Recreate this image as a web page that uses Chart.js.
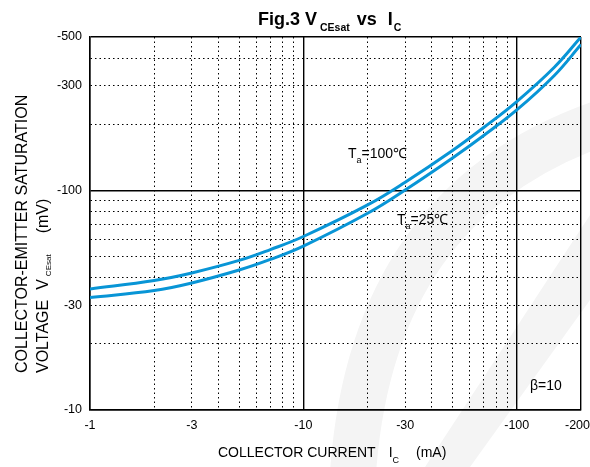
<!DOCTYPE html>
<html>
<head>
<meta charset="utf-8">
<script src="https://cdn.jsdelivr.net/npm/chart.js@4.4.1/dist/chart.umd.min.js"></script>
<style>
  body { margin: 0; background: #fff; }
  #wrap { width: 590px; height: 467px; }
</style>
</head>
<body>
<div id="wrap"><canvas id="chart"></canvas></div>
<script>
// magnitudes, the axes print them with a minus sign
const icValues = [1, 2, 3, 5, 7, 10, 20, 30, 50, 70, 100, 150, 200];               // mA
const vce100 = [35.6, 38.9, 42.1, 48.0, 53.8, 61.7, 85.9, 109, 152, 193.5, 254, 364, 500]; // mV, Ta=100C
const vce25 = [32.5, 35.0, 37.9, 43.4, 48.5, 55.8, 78.7, 100.5, 140.6, 178, 232.6, 334, 462]; // mV, Ta=25C

const xGrid = [1, 2, 3, 4, 5, 6, 7, 8, 9, 10, 20, 30, 40, 50, 60, 70, 80, 90, 100, 200];
const yGrid = [10, 20, 30, 40, 50, 60, 70, 80, 90, 100, 200, 300, 400, 500];
const xTickLabels = [1, 3, 10, 30, 100, 200];
const yTickLabels = [10, 30, 100, 300, 500];
const xMajor = [1, 10, 100, 200];
const yMajor = [10, 100, 500];

const FONT = '"Liberation Sans", Arial, sans-serif';
const BLUE = '#0895d6';

function isMinor(ctx, major) {
    return ctx.tick && !major.includes(ctx.tick.value);
}

// text with subscripts: each part can shift down (dy) and leave a gap before it
function drawRich(ctx, parts, x, y) {
    let cx = x;
    parts.forEach(p => {
        cx += p.gap || 0;
        ctx.font = p.font;
        ctx.fillText(p.text, cx, y + (p.dy || 0));
        cx += ctx.measureText(p.text).width;
    });
}

const f = (size, bold) => (bold ? 'bold ' : '') + size + 'px ' + FONT;

const decorPlugin = {
    id: 'decor',
    beforeDraw(chart) {
        // faint watermark behind the plot
        const ctx = chart.ctx;
        ctx.save();
        ctx.strokeStyle = '#f4f4f4';
        ctx.lineWidth = 46;
        ctx.beginPath();
        ctx.moveTo(352, 490);
        ctx.quadraticCurveTo(365, 200, 610, 120);
        ctx.stroke();
        ctx.fillStyle = '#f4f4f4';
        ctx.beginPath();
        ctx.moveTo(425, 467);
        ctx.lineTo(470, 467);
        ctx.lineTo(590, 300);
        ctx.lineTo(590, 215);
        ctx.closePath();
        ctx.fill();
        ctx.restore();
    },
    afterDraw(chart) {
        const ctx = chart.ctx;
        const xs = chart.scales.x;
        ctx.save();
        ctx.fillStyle = '#000';
        ctx.textBaseline = 'alphabetic';
        ctx.textAlign = 'left';

        // x tick labels, kept inside the canvas at the right edge
        ctx.font = f(12.5);
        xTickLabels.forEach(v => {
            const s = '-' + v;
            const w = ctx.measureText(s).width;
            let px = xs.getPixelForValue(v);
            px = Math.min(px, chart.width - w / 2);
            ctx.fillText(s, px - w / 2, 429);
        });

        // title
        drawRich(ctx, [
            { text: 'Fig.3 V', font: f(18, true) },
            { text: 'CEsat', font: f(10.5, true), dy: 5.5, gap: 3 },
            { text: 'vs', font: f(18, true), gap: 7 },
            { text: 'I', font: f(18, true), gap: 11 },
            { text: 'C', font: f(10.5, true), dy: 5.5, gap: 1 }
        ], 258, 25);

        // x axis title
        drawRich(ctx, [
            { text: 'COLLECTOR CURRENT', font: f(14) },
            { text: 'I', font: f(14), gap: 13 },
            { text: 'C', font: f(9), dy: 6 },
            { text: '(mA)', font: f(14), gap: 17 }
        ], 218, 457);

        // y axis title, two rotated lines
        ctx.save();
        ctx.translate(27, 373);
        ctx.rotate(-Math.PI / 2);
        drawRich(ctx, [{ text: 'COLLECTOR-EMITTER SATURATION', font: f(16) }], 0, 0);
        ctx.restore();
        ctx.save();
        ctx.translate(48, 373);
        ctx.rotate(-Math.PI / 2);
        drawRich(ctx, [
            { text: 'VOLTAGE', font: f(16) },
            { text: 'V', font: f(16), gap: 10 },
            { text: 'CEsat', font: f(8), dy: 2.5, gap: 3 },
            { text: '(mV)', font: f(16), gap: 21 }
        ], 0, 0);
        ctx.restore();

        // curve labels
        drawRich(ctx, [
            { text: 'T', font: f(14) },
            { text: 'a', font: f(9), dy: 5 },
            { text: '=100\u2103', font: f(14) }
        ], 348, 158);
        drawRich(ctx, [
            { text: 'T', font: f(14) },
            { text: 'a', font: f(9), dy: 5 },
            { text: '=25\u2103', font: f(14) }
        ], 397, 224);
        drawRich(ctx, [{ text: '\u03b2=10', font: f(14) }], 530, 390);
        ctx.restore();
    }
};

function makeSeries(vals) {
    return icValues.map((x, i) => ({ x: x, y: vals[i] }));
}

const lineStyle = {
    borderColor: BLUE,
    backgroundColor: BLUE,
    borderWidth: 3,
    pointRadius: 0,
    tension: 0.4,
    fill: false
};

new Chart(document.getElementById('chart'), {
    type: 'line',
    data: {
        datasets: [
            Object.assign({ label: 'Ta=100C', data: makeSeries(vce100) }, lineStyle),
            Object.assign({ label: 'Ta=25C', data: makeSeries(vce25) }, lineStyle)
        ]
    },
    options: {
        responsive: true,
        maintainAspectRatio: false,
        animation: false,
        layout: { padding: { left: 0, top: 37, right: 9, bottom: 0 } },
        plugins: {
            legend: { display: false },
            tooltip: { enabled: false }
        },
        scales: {
            x: {
                type: 'logarithmic',
                min: 1,
                max: 200,
                afterBuildTicks: s => { s.ticks = xGrid.map(v => ({ value: v })); },
                afterFit: s => { s.height = 57; },
                ticks: { display: false },
                grid: {
                    drawTicks: false,
                    color: '#000',
                    lineWidth: ctx => isMinor(ctx, xMajor) ? 1 : 1.4
                },
                border: {
                    display: true,
                    color: '#000',
                    width: 1.5,
                    dash: ctx => isMinor(ctx, xMajor) ? [1.5, 3] : []
                }
            },
            y: {
                type: 'logarithmic',
                min: 10,
                max: 500,
                afterBuildTicks: s => { s.ticks = yGrid.map(v => ({ value: v })); },
                afterFit: s => { s.width = 90; },
                ticks: {
                    autoSkip: false,
                    padding: 8,
                    color: '#000',
                    font: { family: FONT, size: 12.5 },
                    callback: v => yTickLabels.includes(v) ? '-' + v : ''
                },
                grid: {
                    drawTicks: false,
                    color: '#000',
                    lineWidth: ctx => isMinor(ctx, yMajor) ? 1 : 1.4
                },
                border: {
                    display: true,
                    color: '#000',
                    width: 1.5,
                    dash: ctx => isMinor(ctx, yMajor) ? [1.5, 3] : []
                }
            }
        }
    },
    plugins: [decorPlugin]
});
</script>
</body>
</html>
